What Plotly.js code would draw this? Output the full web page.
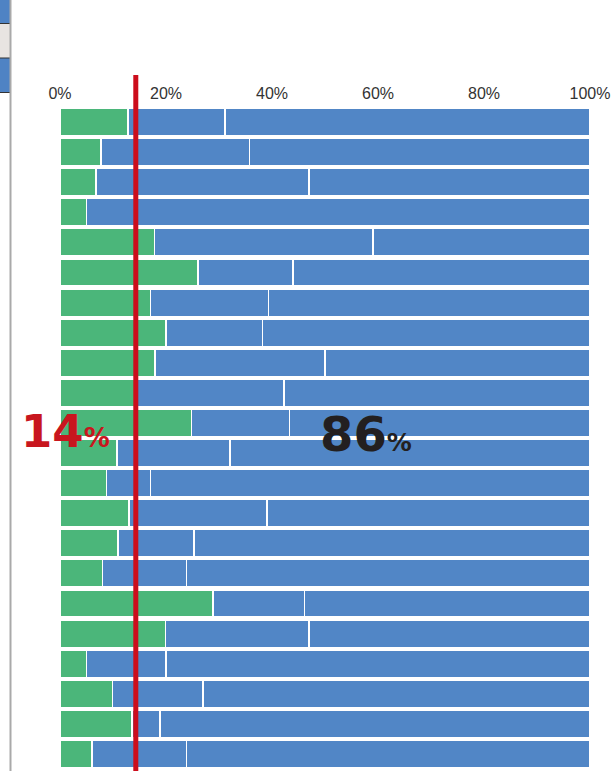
<!DOCTYPE html>
<html>
<head>
<meta charset="utf-8">
<script src="https://cdn.plot.ly/plotly-3.0.1.min.js"></script>
<style>
  html, body { margin: 0; padding: 0; background: #ffffff; }
  #chart { width: 614px; height: 771px; }
</style>
</head>
<body>
<div id="chart"></div>
<script>
// ---- data (percent of each row) ----
const rows = ["1","2","3","4","5","6","7","8","9","10","11","12","13","14","15","16","17","18","19","20","21","22"];
const greenShare = [12.8, 7.7, 6.8, 5.0, 17.8, 26.0, 17.1, 20.0, 17.9, 14.2, 24.8, 10.8, 8.8, 13.0, 10.9, 8.0, 28.9, 19.9, 5.0, 9.9, 13.6, 6.0];
const blueShareA  = [18.3, 28.1, 40.2, 95.0, 41.3, 18.0, 22.2, 18.2, 32.1, 28.1, 18.5, 21.3, 8.3, 26.1, 14.4, 15.9, 17.2, 27.1, 15.0, 17.1, 5.3, 17.9];
const blueShareB  = [68.9, 64.2, 53.0, 0.0, 40.9, 56.0, 60.7, 61.8, 50.0, 57.7, 56.7, 67.9, 82.9, 60.9, 74.7, 76.1, 53.9, 53.0, 80.0, 73.0, 81.1, 76.1];
const tickValues = [0, 20, 40, 60, 80, 100];
const tickLabels = ["0%", "20%", "40%", "60%", "80%", "100%"];
const averageLine = 14.3;
const leftLabel = "14";
const rightLabel = "86";

// ---- layout geometry (pixels) ----
const W = 614, H = 771;
const M = { l: 60, r: 24, t: 107, b: 2 };
const plotW = W - M.l - M.r, plotH = H - M.t - M.b;
const px = x => (x - M.l) / plotW;
const py = y => (H - M.b - y) / plotH;

const GREEN = "#4bb67a";
const BLUE = "#5186c6";
const RED = "#cc0d1c";

const yIdx = rows.map((r, i) => i + 1);
function barTrace(vals, color) {
  return {
    type: "bar", orientation: "h",
    x: vals, y: yIdx,
    marker: { color: color, line: { color: "#ffffff", width: 1.5 } },
    hoverinfo: "skip", showlegend: false
  };
}
const data = [barTrace(greenShare, GREEN), barTrace(blueShareA, BLUE), barTrace(blueShareB, BLUE)];

const shapes = [
  // left UI fragments
  { type: "rect", xref: "paper", yref: "paper", x0: px(0), x1: px(10), y0: py(0), y1: py(23.5), fillcolor: "#4f83c4", line: { width: 0 }, layer: "above" },
  { type: "rect", xref: "paper", yref: "paper", x0: px(0), x1: px(10), y0: py(23.5), y1: py(58), fillcolor: "#e8e4e1", line: { width: 0 }, layer: "above" },
  { type: "rect", xref: "paper", yref: "paper", x0: px(0), x1: px(10), y0: py(58), y1: py(92.5), fillcolor: "#4f83c4", line: { width: 0 }, layer: "above" },
  { type: "line", xref: "paper", yref: "paper", x0: px(0), x1: px(10), y0: py(23.5), y1: py(23.5), line: { color: "#333333", width: 1 } },
  { type: "line", xref: "paper", yref: "paper", x0: px(0), x1: px(10), y0: py(58), y1: py(58), line: { color: "#333333", width: 1 } },
  { type: "line", xref: "paper", yref: "paper", x0: px(0), x1: px(10), y0: py(92.5), y1: py(92.5), line: { color: "#333333", width: 1 } },
  { type: "line", xref: "paper", yref: "paper", x0: px(10.5), x1: px(10.5), y0: py(0), y1: py(H), line: { color: "#a9a9a9", width: 2 } },
  // average line
  { type: "line", xref: "x", yref: "paper", x0: averageLine, x1: averageLine, y0: py(H + 2), y1: py(75), line: { color: RED, width: 5 }, layer: "above" }
];

const annotations = [
  { xref: "paper", yref: "paper", x: px(19), y: py(431), xanchor: "left", yanchor: "middle", showarrow: false,
    text: leftLabel + "<span style='font-size:26px'>%</span>",
    font: { family: "DejaVu Sans", size: 45, color: "#c8161e", weight: "bold" } },
  { xref: "paper", yref: "paper", x: px(318), y: py(434), xanchor: "left", yanchor: "middle", showarrow: false,
    text: rightLabel + "<span style='font-size:25px'>%</span>",
    font: { family: "DejaVu Sans", size: 48, color: "#231f20", weight: "bold" } }
];

const layout = {
  width: W, height: H,
  margin: M,
  paper_bgcolor: "#ffffff", plot_bgcolor: "#ffffff",
  barmode: "stack", bargap: 0.087,
  showlegend: false,
  xaxis: {
    range: [0, 100], side: "top", tickvals: tickValues, ticktext: tickLabels,
    showgrid: false, zeroline: false, showline: false, ticks: "",
    ticklabelstandoff: 4,
    tickfont: { family: "Liberation Sans, Arial, sans-serif", size: 16, color: "#333333" },
    fixedrange: true
  },
  yaxis: {
    range: [rows.length + 0.5, 0.5], showticklabels: false, showgrid: false,
    zeroline: false, showline: false, ticks: "", fixedrange: true
  },
  shapes: shapes,
  annotations: annotations,
  font: { family: "Liberation Sans, Arial, sans-serif" }
};

Plotly.newPlot("chart", data, layout, { displayModeBar: false, staticPlot: true });
</script>
</body>
</html>
